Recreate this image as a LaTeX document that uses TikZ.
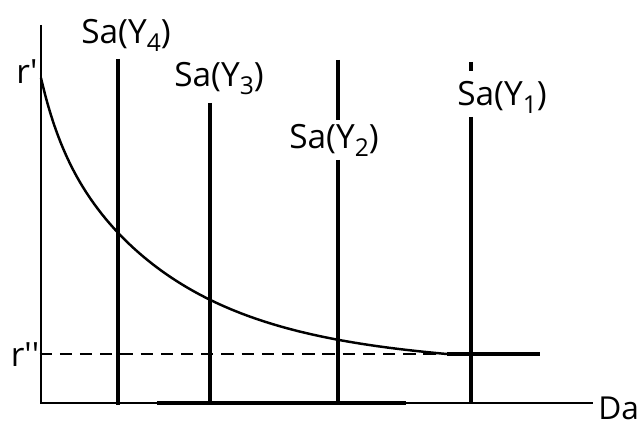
\documentclass[tikz,border=0pt]{standalone}
\usepackage{fontspec}
\setmainfont{Open Sans}
\usetikzlibrary{positioning}
\newcommand{\lsub}[1]{\raisebox{-0.45ex}{\fontsize{14}{14}\selectfont #1}}
\newcommand{\lin}{\textquotesingle}

\begin{document}
\begin{tikzpicture}[
    x=0.02cm,
    y=-0.02cm,
    eixo/.style={line width=1.3pt},
    oferta/.style={line width=2.2pt},
    curva/.style={line width=1.4pt},
    tracejada/.style={line width=0.8pt, dash pattern=on 7pt off 4.5pt},
    rotulo/.style={font=\fontsize{19}{21}\selectfont, inner sep=0pt}
]
\useasboundingbox (0,0) rectangle (638,425);

% ============================================================
% EIXOS
% ============================================================

\coordinate (o) at (41,403);
\coordinate (ytopo) at (41,25);
\coordinate (xfim) at (593,403);

\draw[eixo] (ytopo) -- (o) -- (xfim);
\draw[line width=2pt] (157,403) -- (406,403);

\node[rotulo, font=\fontsize{18}{20}\selectfont, anchor=base west] (da) at (598,419) {Da};
\node[rotulo] (r1) at (27,72) {r\lin};
\node[rotulo] (r2) at (25,355) {r\lin\lin};

% ============================================================
% ROTULOS DAS OFERTAS
% ============================================================

\node[rotulo] (s4) at (126,35) {Sa(Y\lsub{4})};
\node[rotulo] (s3) at (219,79) {Sa(Y\lsub{3})};
\node[rotulo] (s2) at (334,140) {Sa(Y\lsub{2})};
\node[rotulo] (s1) at (502,97) {Sa(Y\lsub{1})};

% ============================================================
% RETAS VERTICAIS
% ============================================================

\coordinate (t4) at (118,59);
\coordinate (b4) at (118,405);
\coordinate (t3) at (210,103);
\coordinate (b3) at (210,403);
\coordinate (t2) at (338,60);
\coordinate (b2) at (338,403);
\coordinate (t1) at (471,62);
\coordinate (b1) at (471,403);

\draw[oferta] (t4) -- (b4);
\draw[oferta] (t3) -- (b3);
\draw[oferta] (t2) -- ([yshift=2pt]t2 |- s2.north);
\draw[oferta] ([yshift=-2pt]t2 |- s2.south) -- (b2);
\draw[oferta] (t1) -- (471,71);
\draw[oferta] ([yshift=-2pt]t1 |- s1.south) -- (b1);

% ============================================================
% CURVA E PISO
% ============================================================

\draw[tracejada] (r2.east |- 0,354) -- (447,354);
\draw[line width=2.4pt] (447,354) -- (540,354);

\draw[curva] plot[domain=41:447, samples=120, smooth]
    (\x, {354 - 48*exp(-(\x-41)/19.5) - 228*exp(-(\x-41)/123) + 8.4*(\x-41)/406});

\end{tikzpicture}
\end{document}
